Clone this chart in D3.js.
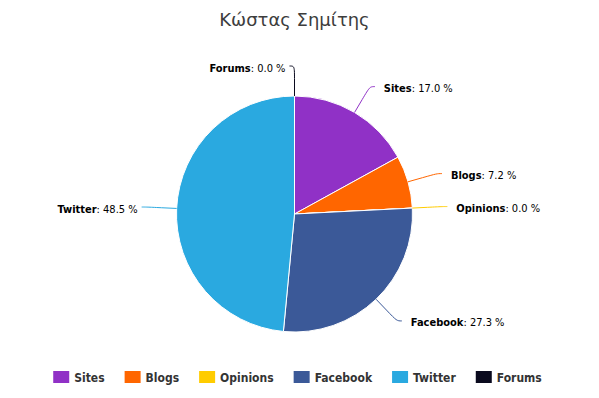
<!DOCTYPE html>
<html><head><meta charset="utf-8">
<script src="https://cdn.jsdelivr.net/npm/d3@7"></script>
<style>body{margin:0;background:#fff}svg{display:block}</style>
</head><body>
<svg id="c" width="599" height="398"></svg>
<script>
const title = "Κώστας Σημίτης";
const categories = ["Sites","Blogs","Opinions","Facebook","Twitter","Forums"];
const values = [17.0, 7.2, 0.0, 27.3, 48.5, 0.0];
const colors = ["#9031c6","#ff6600","#ffcc00","#3b5998","#2aa9e0","#0a0a1e"];

const W = 599, H = 398;
const cx = 294.5, cy = 214, r = 118, dist = 30;
const FONT = "'DejaVu Sans', Verdana, sans-serif";
const FONTC = "'DejaVu Sans Condensed', 'DejaVu Sans', sans-serif";
const svg = d3.select("#c");

svg.append("text").attr("x", cx).attr("y", 26).attr("text-anchor","middle")
  .attr("font-family", FONT).attr("font-size", 18).attr("fill","#3d3d3d").text(title);

const data = categories.map((c,i)=>({name:c, value:values[i], color:colors[i]}));
const pie = d3.pie().sort(null).value(d=>d.value).startAngle(0).endAngle(2*Math.PI);
const arcs = pie(data);
const arc = d3.arc().innerRadius(0).outerRadius(r);

const g = svg.append("g");
g.selectAll("path.slice").data(arcs).join("path").attr("class","slice")
  .attr("transform",`translate(${cx},${cy})`)
  .attr("d", arc).attr("fill", d=>d.data.color)
  .attr("stroke","#fff").attr("stroke-width",1).attr("stroke-linejoin","round");

// labels
const pt = (a, rad) => [cx + rad*Math.sin(a), cy - rad*Math.cos(a)];
let prevY = -Infinity;
arcs.forEach(d => {
  const a = (d.startAngle + d.endAngle)/2;
  const left = Math.sin(a) < 0 || (Math.abs(Math.sin(a))<1e-6 && a>Math.PI);
  const side = left ? -1 : 1;
  const edge = pt(a, r), p2 = pt(a, r + dist/2), L = pt(a, r + dist);
  const x = L[0], y = L[1];
  const path = `M${x + side*5},${y} C${x},${y} ${2*p2[0]-edge[0]},${2*p2[1]-edge[1]} ${p2[0]},${p2[1]} L${edge[0]},${edge[1]}`;
  g.append("path").attr("d", path).attr("fill","none").attr("stroke", d.data.color).attr("stroke-width",1);
  const t = g.append("text").attr("x", x + (left ? -9 : 14)).attr("y", y + 5.5)
    .attr("text-anchor", left ? "end" : "start")
    .attr("font-family", FONTC).attr("font-size", 11).attr("fill","#000");
  t.append("tspan").attr("font-weight","bold").text(d.data.name);
  t.append("tspan").text(": " + d3.format(".1f")(d.data.value) + " %");
});

// legend
const lg = svg.append("g");
const items = lg.selectAll("g").data(data).join("g");
items.append("rect").attr("width",16).attr("height",12).attr("y",371).attr("fill",d=>d.color);
items.append("text").attr("x",21).attr("y",382).attr("font-family",FONTC).attr("font-size",12)
  .attr("font-weight","bold").attr("fill","#333").text(d=>d.name);
let xpos = 0;
items.each(function(){
  const w = 21 + d3.select(this).select("text").node().getComputedTextLength();
  d3.select(this).attr("transform",`translate(${xpos},0)`);
  xpos += w + 20;
});
const total = xpos - 20;
lg.attr("transform",`translate(${(W-total)/2 - 2},0)`);
</script>
</body></html>
